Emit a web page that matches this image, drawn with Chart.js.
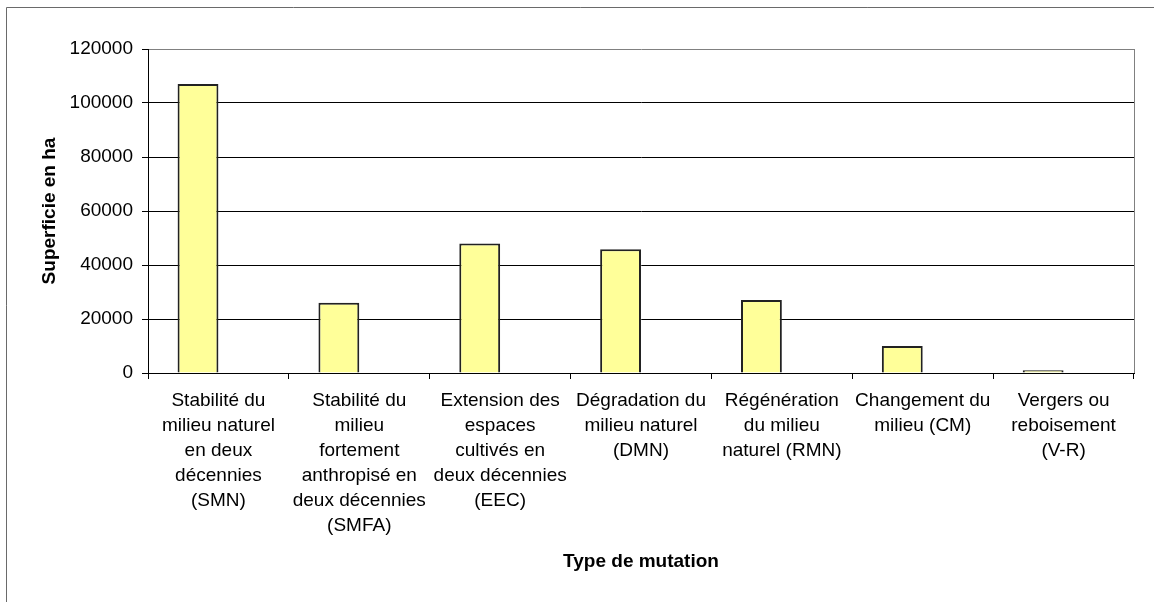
<!DOCTYPE html>
<html>
<head>
<meta charset="utf-8">
<script src="https://cdn.jsdelivr.net/npm/chart.js@4/dist/chart.umd.min.js"></script>
<style>
  html, body { margin: 0; padding: 0; background: #fff; }
  #wrap { width: 1154px; height: 602px; position: relative; }
</style>
</head>
<body>
<div id="wrap"><canvas id="c"></canvas></div>
<script>
const categories = [
  ["Stabilité du", "milieu naturel", "en deux", "décennies", "(SMN)"],
  ["Stabilité du", "milieu", "fortement", "anthropisé en", "deux décennies", "(SMFA)"],
  ["Extension des", "espaces", "cultivés en", "deux décennies", "(EEC)"],
  ["Dégradation du", "milieu naturel", "(DMN)"],
  ["Régénération", "du milieu", "naturel (RMN)"],
  ["Changement du", "milieu (CM)"],
  ["Vergers ou", "reboisement", "(V-R)"]
];
const superficie = [107000, 26000, 48000, 45800, 27000, 10000, 1000];
const emptySeries = [null, null, null, null, null, null, null];
const yTicks = [0, 20000, 40000, 60000, 80000, 100000, 120000];
const yTitle = "Superficie en ha";
const xTitle = "Type de mutation";

Chart.defaults.font.family = "'Liberation Sans', Arial, sans-serif";
Chart.defaults.color = "#000";

const borders = {
  id: 'borders',
  beforeDraw(chart) {
    const ctx = chart.ctx;
    ctx.save();
    ctx.fillStyle = '#fff';
    ctx.fillRect(0, 0, chart.width, chart.height);
    ctx.strokeStyle = '#6a6a6a';
    ctx.lineWidth = 1;
    ctx.beginPath();
    ctx.moveTo(6.5, chart.height + 5);
    ctx.lineTo(6.5, 7.5);
    ctx.lineTo(chart.width + 5, 7.5);
    ctx.stroke();
    ctx.restore();
  },
  afterDatasetsDraw(chart) {
    const a = chart.chartArea;
    const ctx = chart.ctx;
    ctx.save();
    ctx.strokeStyle = '#808080';
    ctx.lineWidth = 1;
    ctx.beginPath();
    ctx.moveTo(Math.round(a.right) + 0.5, a.top);
    ctx.lineTo(Math.round(a.right) + 0.5, a.bottom);
    ctx.stroke();
    ctx.restore();
  }
};

new Chart(document.getElementById('c'), {
  type: 'bar',
  data: {
    labels: categories,
    datasets: [
      {
        label: 'Superficie',
        data: superficie,
        backgroundColor: '#FFFF99',
        borderColor: '#222222',
        borderWidth: 2,
        categoryPercentage: 0.58,
        barPercentage: 1.0
      },
      {
        label: '',
        data: emptySeries,
        backgroundColor: '#9999FF',
        borderColor: '#000',
        borderWidth: 1,
        categoryPercentage: 0.58,
        barPercentage: 1.0
      }
    ]
  },
  options: {
    responsive: true,
    maintainAspectRatio: false,
    animation: false,
    layout: { padding: { top: 49, right: 20, left: 0, bottom: 0 } },
    plugins: {
      legend: { display: false },
      tooltip: { enabled: false },
      title: { display: false }
    },
    scales: {
      x: {
        offset: true,
        grid: {
          offset: true,
          drawOnChartArea: false,
          drawTicks: true,
          tickLength: 6,
          color: '#000',
          tickColor: '#000'
        },
        border: { display: true, color: '#000', width: 1 },
        ticks: {
          autoSkip: false,
          maxRotation: 0,
          minRotation: 0,
          padding: 9,
          color: '#000',
          font: { size: 19, lineHeight: 25 / 19 }
        },
        title: {
          display: true,
          text: xTitle,
          color: '#000',
          font: { size: 19, weight: 'bold', lineHeight: 1.2 },
          padding: { top: 0, bottom: 28.6 }
        },
        afterFit(s) { s.height = 229; }
      },
      y: {
        min: 0,
        max: 120000,
        afterBuildTicks(s) { s.ticks = yTicks.map(v => ({ value: v })); },
        grid: {
          color: (c) => (c.tick && c.tick.value === 120000) ? '#808080' : '#000',
          tickColor: '#000',
          tickLength: 6,
          drawTicks: true,
          lineWidth: 1
        },
        border: { display: true, color: '#000', width: 1 },
        ticks: {
          padding: 9,
          color: '#000',
          font: { size: 19 },
          callback: (v) => String(v)
        },
        title: {
          display: true,
          text: yTitle,
          color: '#000',
          font: { size: 19, weight: 'bold', lineHeight: 1.2 },
          padding: { top: 38.6, bottom: 0 }
        },
        afterFit(s) { s.width = 148; }
      }
    }
  },
  plugins: [borders]
});
</script>
</body>
</html>
